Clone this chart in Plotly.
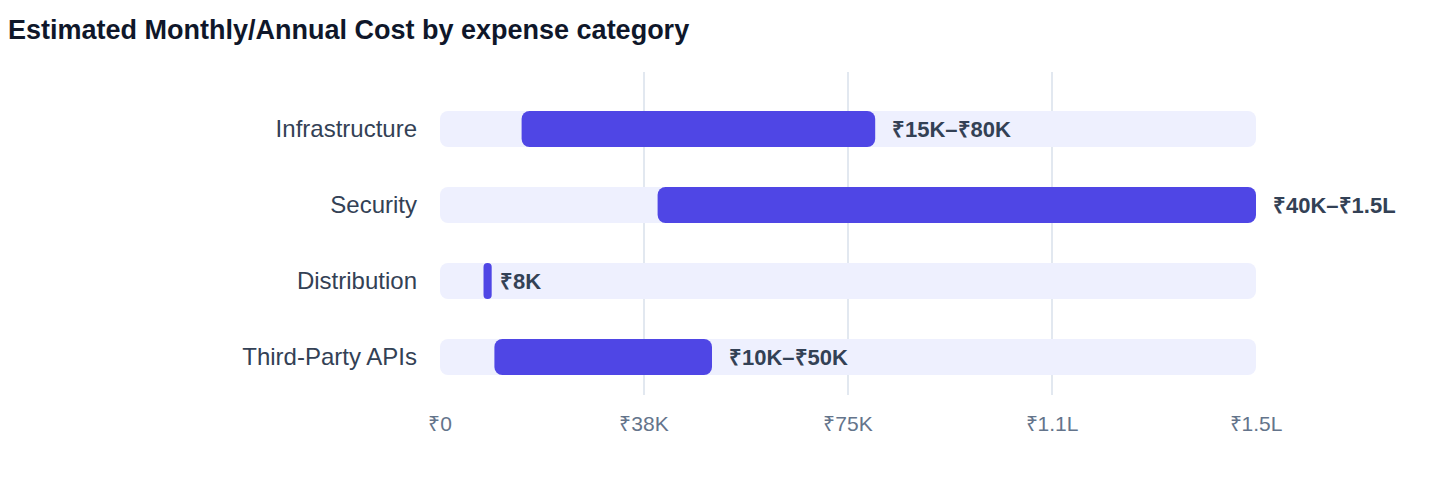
import plotly.graph_objects as go

categories = ["Infrastructure", "Security", "Distribution", "Third-Party APIs"]
low_values = [15000, 40000, 8000, 10000]
high_values = [80000, 150000, 8000, 50000]
range_labels = ["₹15K–₹80K", "₹40K–₹1.5L", "₹8K", "₹10K–₹50K"]
axis_max = 150000
tick_values = [0, 37500, 75000, 112500, 150000]
tick_labels = ["₹0", "₹38K", "₹75K", "₹1.1L", "₹1.5L"]

MIN_WIDTH = 1500  # minimum visible width for single-value ranges
FONT = "Liberation Sans, Arial, Helvetica, sans-serif"

widths = [max(h - l, MIN_WIDTH) for l, h in zip(low_values, high_values)]

fig = go.Figure()
fig.add_trace(go.Bar(
    y=categories, x=[axis_max] * len(categories), base=[0] * len(categories),
    orientation="h", marker=dict(color="#EEF0FE", line=dict(width=0)),
    width=0.475, hoverinfo="skip", showlegend=False,
))
fig.add_trace(go.Bar(
    y=categories, x=widths, base=low_values,
    orientation="h", marker=dict(color="#4F46E5", line=dict(width=0)),
    width=0.475, showlegend=False,
    customdata=range_labels, hovertemplate="%{y}: %{customdata}<extra></extra>",
))

for cat, l, w, h, lab in zip(categories, low_values, widths, high_values, range_labels):
    fig.add_annotation(
        x=l + w, y=cat, text=f"<b>{lab}</b>", showarrow=False,
        xanchor="left", yanchor="middle", xshift=6 if h == l else 15,
        font=dict(family=FONT, size=22, color="#334155"),
    )

fig.update_layout(
    width=1440, height=484,
    margin=dict(l=432, r=192, t=64, b=97),
    paper_bgcolor="white", plot_bgcolor="white",
    barmode="overlay", barcornerradius=8,
    title=dict(
        text="<b>Estimated Monthly/Annual Cost by expense category</b>",
        x=0, xref="container", xanchor="left",
        y=1 - 12 / 484, yref="container", yanchor="top",
        font=dict(family=FONT, size=27, color="#0F172A"),
    ),
    xaxis=dict(
        range=[0, axis_max], tickvals=tick_values, ticktext=tick_labels,
        showgrid=True, gridcolor="#E2E8F0", gridwidth=1.5, zeroline=False,
        showline=False, ticks="", ticklabelstandoff=14,
        tickfont=dict(family=FONT, size=21, color="#64748B"),
    ),
    yaxis=dict(
        type="category", categoryorder="array", categoryarray=categories,
        range=[3.5, -0.75], showgrid=False, zeroline=False, showline=False,
        ticks="", ticklabelstandoff=22,
        tickfont=dict(family=FONT, size=24, color="#334155"),
    ),
)

fig.write_html("out.html")
